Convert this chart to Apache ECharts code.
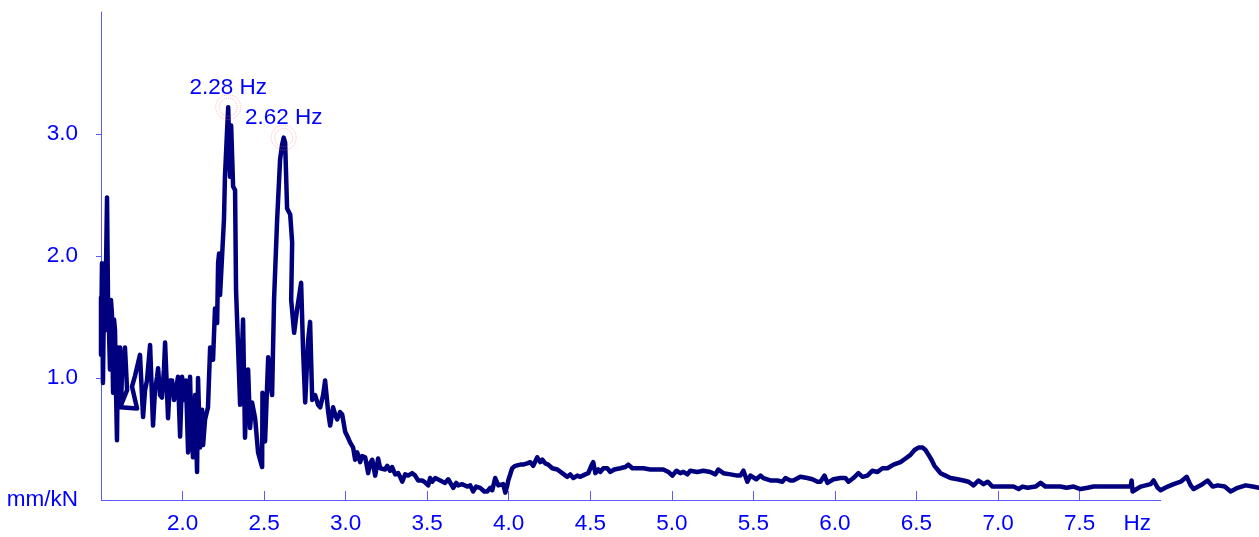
<!DOCTYPE html>
<html>
<head>
<meta charset="utf-8">
<title>Frequency response</title>
<script src="https://cdn.jsdelivr.net/npm/echarts@6/dist/echarts.min.js"></script>
<style>
  html, body { margin: 0; padding: 0; background: #ffffff; }
  #chart { width: 1259px; height: 537px; }
</style>
</head>
<body>
<div id="chart"></div>
<script>
// Frequency (Hz) of each spectrum sample
const freqs = [
  1.500, 1.500, 1.506, 1.512, 1.518, 1.525, 1.537, 1.543, 1.549, 1.555,
  1.561, 1.567, 1.574, 1.580, 1.586, 1.592, 1.598, 1.604, 1.610, 1.617,
  1.623, 1.629, 1.641, 1.647, 1.660, 1.617, 1.721, 1.690, 1.709, 1.739,
  1.758, 1.770, 1.782, 1.801, 1.819, 1.831, 1.844, 1.850, 1.862, 1.874,
  1.886, 1.893, 1.911, 1.923, 1.936, 1.948, 1.960, 1.972, 1.985, 1.997,
  2.009, 2.021, 2.034, 2.046, 2.052, 2.064, 2.077, 2.089, 2.095, 2.107,
  2.120, 2.126, 2.138, 2.156, 2.169, 2.181, 2.187, 2.199, 2.212, 2.218,
  2.224, 2.230, 2.242, 2.254, 2.260, 2.272, 2.280, 2.285, 2.291, 2.298,
  2.310, 2.322, 2.328, 2.353, 2.371, 2.383, 2.396, 2.402, 2.414, 2.426,
  2.445, 2.463, 2.475, 2.488, 2.490, 2.506, 2.525, 2.537, 2.549, 2.555,
  2.561, 2.580, 2.598, 2.610, 2.620, 2.629, 2.635, 2.641, 2.660, 2.672,
  2.666, 2.684, 2.702, 2.727, 2.739, 2.752, 2.770, 2.782, 2.795, 2.813,
  2.831, 2.844, 2.862, 2.874, 2.893, 2.905, 2.923, 2.936, 2.948, 2.966,
  2.979, 2.997, 3.015, 3.028, 3.046, 3.058, 3.071, 3.089, 3.101, 3.120,
  3.138, 3.150, 3.163, 3.181, 3.199, 3.212, 3.224, 3.242, 3.255, 3.273,
  3.285, 3.304, 3.322, 3.334, 3.347, 3.365, 3.383, 3.408, 3.426, 3.445,
  3.469, 3.482, 3.506, 3.518, 3.531, 3.549, 3.561, 3.580, 3.610,
  3.629, 3.641, 3.660, 3.678, 3.690, 3.715, 3.745, 3.764, 3.782, 3.800,
  3.825, 3.850, 3.868, 3.887, 3.899, 3.917, 3.936, 3.948, 3.966, 3.979,
  3.991, 3.997, 4.021, 4.040, 4.052, 4.071, 4.089, 4.113, 4.132, 4.150,
  4.175, 4.193, 4.206, 4.224, 4.242, 4.267, 4.298, 4.328, 4.359, 4.377,
  4.396, 4.420, 4.439, 4.469, 4.488, 4.506, 4.518, 4.531, 4.549, 4.561,
  4.580, 4.604, 4.623, 4.647, 4.684, 4.715, 4.733, 4.758, 4.788, 4.825,
  4.868, 4.911, 4.948, 4.979, 5.003, 5.028, 5.052, 5.071, 5.095, 5.113,
  5.156, 5.193, 5.236, 5.267, 5.285, 5.316, 5.359, 5.402, 5.420, 5.439,
  5.463, 5.482, 5.518, 5.543, 5.561, 5.604, 5.647, 5.678, 5.696, 5.727,
  5.745, 5.788, 5.831, 5.862, 5.893, 5.911, 5.936, 5.954, 5.991, 6.034,
  6.064, 6.083, 6.113, 6.144, 6.169, 6.199, 6.230, 6.261, 6.291, 6.322,
  6.359, 6.402, 6.433, 6.463, 6.488, 6.512, 6.537, 6.555, 6.574, 6.592,
  6.610, 6.629, 6.647, 6.678, 6.709, 6.752, 6.788, 6.819, 6.850, 6.880,
  6.911, 6.936, 6.966, 6.997, 7.046, 7.095, 7.126, 7.150, 7.181, 7.230,
  7.261, 7.291, 7.340, 7.383, 7.420, 7.463, 7.506, 7.549, 7.586, 7.629,
  7.678, 7.733, 7.764, 7.813, 7.819, 7.825, 7.874, 7.936, 7.954, 7.979,
  7.997, 8.040, 8.077, 8.120, 8.157, 8.181, 8.199, 8.242, 8.285, 8.316,
  8.347, 8.390, 8.426, 8.469, 8.518, 8.561, 8.600
];

// Compliance amplitude (mm/kN) at each frequency
const amplitudes = [
  1.66, 1.19, 1.94, 0.96, 1.64, 1.39, 2.48, 1.64, 1.39, 1.07,
  1.64, 1.53, 0.88, 1.48, 1.39, 0.90, 0.49, 1.25, 0.98, 1.25,
  0.76, 1.07, 1.15, 1.25, 0.90, 0.76, 0.75, 0.93, 1.02, 1.19,
  0.68, 0.90, 0.98, 1.27, 0.61, 0.90, 1.01, 1.08, 0.86, 0.84,
  1.07, 1.29, 0.67, 0.98, 0.98, 0.82, 0.90, 1.01, 0.52, 1.01,
  0.82, 0.98, 0.39, 1.01, 0.66, 0.35, 0.86, 0.23, 1.00, 0.43,
  0.74, 0.45, 0.66, 0.76, 1.25, 1.23, 1.15, 1.57, 1.45, 1.94,
  2.02, 1.68, 1.99, 2.30, 2.65, 3.00, 3.22, 2.95, 2.65, 3.07,
  2.57, 2.54, 1.72, 0.78, 1.48, 0.51, 1.02, 1.07, 0.59, 0.80,
  0.67, 0.39, 0.33, 0.27, 0.88, 0.48, 1.17, 0.98, 0.86, 1.25,
  1.64, 2.30, 2.79, 2.91, 2.97, 2.93, 2.66, 2.39, 2.34, 2.11,
  1.64, 1.37, 1.56, 1.78, 1.23, 0.80, 1.31, 1.46, 0.82, 0.86,
  0.78, 0.76, 0.86, 0.98, 0.72, 0.61, 0.76, 0.70, 0.66, 0.72,
  0.70, 0.56, 0.51, 0.47, 0.43, 0.33, 0.39, 0.31, 0.36, 0.35,
  0.22, 0.30, 0.33, 0.20, 0.34, 0.26, 0.27, 0.25, 0.28, 0.24,
  0.27, 0.21, 0.22, 0.19, 0.15, 0.21, 0.20, 0.22, 0.20, 0.16,
  0.16, 0.15, 0.12, 0.18, 0.15, 0.18, 0.18, 0.16, 0.14,
  0.17, 0.16, 0.10, 0.14, 0.12, 0.13, 0.11, 0.12, 0.07, 0.11,
  0.10, 0.07, 0.07, 0.10, 0.08, 0.18, 0.12, 0.11, 0.13, 0.06,
  0.12, 0.16, 0.26, 0.28, 0.27, 0.29, 0.29, 0.30, 0.31, 0.28,
  0.35, 0.31, 0.33, 0.30, 0.29, 0.26, 0.25, 0.22, 0.19, 0.21,
  0.18, 0.20, 0.19, 0.21, 0.22, 0.28, 0.31, 0.22, 0.25, 0.23,
  0.26, 0.26, 0.23, 0.25, 0.26, 0.27, 0.29, 0.26, 0.26, 0.26,
  0.25, 0.25, 0.25, 0.23, 0.20, 0.24, 0.22, 0.23, 0.21, 0.24,
  0.23, 0.24, 0.23, 0.21, 0.25, 0.22, 0.21, 0.20, 0.20, 0.24,
  0.15, 0.20, 0.17, 0.20, 0.18, 0.16, 0.16, 0.15, 0.18, 0.16,
  0.16, 0.19, 0.18, 0.17, 0.15, 0.15, 0.20, 0.14, 0.17, 0.18,
  0.18, 0.15, 0.18, 0.22, 0.19, 0.20, 0.24, 0.23, 0.26, 0.26,
  0.29, 0.31, 0.34, 0.37, 0.41, 0.43, 0.43, 0.41, 0.37, 0.33,
  0.28, 0.25, 0.22, 0.20, 0.18, 0.17, 0.16, 0.15, 0.12, 0.16,
  0.13, 0.15, 0.11, 0.11, 0.11, 0.11, 0.09, 0.11, 0.10, 0.11,
  0.14, 0.11, 0.11, 0.11, 0.10, 0.11, 0.09, 0.10, 0.11, 0.11,
  0.11, 0.11, 0.11, 0.11, 0.16, 0.07, 0.11, 0.13, 0.16, 0.10,
  0.08, 0.11, 0.13, 0.15, 0.19, 0.12, 0.09, 0.12, 0.16, 0.11,
  0.12, 0.11, 0.07, 0.10, 0.12, 0.11, 0.10
];

// Marked resonance peaks
const peakFreqs = [2.28, 2.62];
const peakAmps = [3.22, 2.97];

// Axis ticks and labels
const xTicks = [2.0, 2.5, 3.0, 3.5, 4.0, 4.5, 5.0, 5.5, 6.0, 6.5, 7.0, 7.5];
const xLabelValues = [2.0, 2.5, 3.0, 3.5, 4.0, 4.5, 5.0, 5.5, 6.0, 6.5, 7.0, 7.5, 8.0];
const xAxisStart = 1.5;
const xAxisEnd = 8.0;
const yTicks = [1, 2, 3];
const yLabelValues = [0, 1, 2, 3];
const xUnit = 'Hz';
const yUnit = 'mm/kN';

const FONT = '"Liberation Sans", Arial, sans-serif';
const FONT_SIZE = 22.5;
const TEXT_BLUE = '#0000ff';
const AXIS_BLUE = '#5a5aff';

const lineData = freqs.map((f, i) => [f, amplitudes[i]]);
const peakData = peakFreqs.map((f, i) => [f, peakAmps[i]]);

const chart = echarts.init(document.getElementById('chart'), null, { renderer: 'canvas' });

chart.setOption({
  backgroundColor: '#ffffff',
  animation: false,
  grid: { left: 101, right: 0, top: 12, bottom: 37, containLabel: false },
  xAxis: {
    type: 'value',
    min: 1.5,
    max: 8.6,
    interval: 0.5,
    // the visible baseline stops at 8.0 Hz; it is drawn as a markLine below
    axisLine: { show: false },
    axisTick: { show: true, inside: true, length: 9, customValues: xTicks,
                lineStyle: { color: AXIS_BLUE, width: 1 } },
    axisLabel: {
      show: true, customValues: xLabelValues, margin: 12,
      color: TEXT_BLUE, fontFamily: FONT, fontSize: FONT_SIZE,
      formatter: v => (v >= xAxisEnd ? '{u|' + xUnit + '}' : v.toFixed(1)),
      rich: {
        u: { color: TEXT_BLUE, fontFamily: FONT, fontSize: FONT_SIZE, padding: [0, 48, 0, 0] }
      }
    },
    splitLine: { show: false }
  },
  yAxis: {
    type: 'value',
    min: 0,
    max: 4,
    interval: 1,
    axisLine: { show: true, lineStyle: { color: AXIS_BLUE, width: 1 } },
    axisTick: { show: true, inside: false, length: 5, customValues: yTicks,
                lineStyle: { color: AXIS_BLUE, width: 1 } },
    axisLabel: {
      show: true, customValues: yLabelValues, margin: 23,
      color: TEXT_BLUE, fontFamily: FONT, fontSize: FONT_SIZE,
      formatter: v => (v === 0 ? yUnit : v.toFixed(1))
    },
    splitLine: { show: false }
  },
  series: [
    {
      type: 'line',
      data: lineData,
      showSymbol: false,
      smooth: false,
      lineStyle: { color: '#00007f', width: 4.5, cap: 'round', join: 'round' },
      markLine: {
        silent: true,
        symbol: ['none', 'none'],
        label: { show: false },
        lineStyle: { color: AXIS_BLUE, width: 1, type: 'solid' },
        emphasis: { disabled: true },
        data: [[{ coord: [xAxisStart, 0] }, { coord: [xAxisEnd, 0] }]]
      },
      z: 2
    },
    {
      // outer ring around each peak, carrying the frequency label
      type: 'scatter',
      data: peakData,
      symbol: 'circle',
      symbolSize: 25,
      itemStyle: { color: 'rgba(255,255,255,0)', borderColor: 'rgba(255,110,110,0.6)', borderWidth: 1, borderType: 'dotted' },
      label: {
        show: true, position: 'top', distance: -5, opacity: 1,
        color: TEXT_BLUE, fontFamily: FONT, fontSize: FONT_SIZE,
        formatter: p => p.value[0].toFixed(2) + ' ' + xUnit
      },
      z: 3
    },
    {
      // inner ring around each peak
      type: 'scatter',
      data: peakData,
      symbol: 'circle',
      symbolSize: 18,
      itemStyle: { color: 'rgba(255,255,255,0)', borderColor: 'rgba(255,110,110,0.6)', borderWidth: 1, borderType: 'dotted' },
      z: 3
    }
  ]
});
</script>
</body>
</html>
